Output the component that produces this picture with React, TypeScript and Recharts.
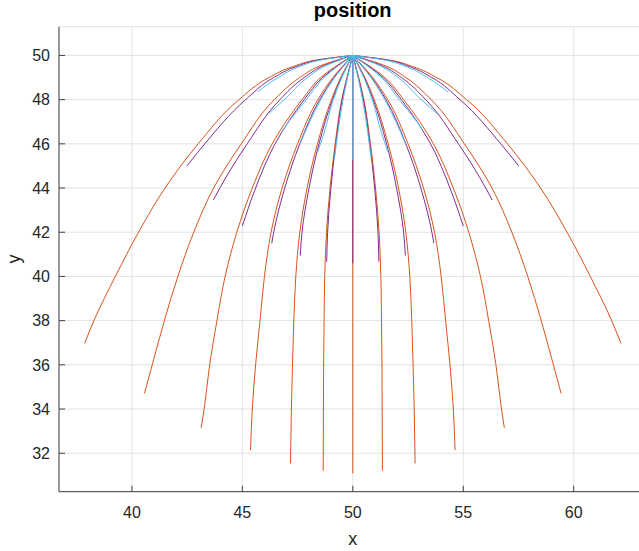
import { LineChart, Line, XAxis, YAxis, CartesianGrid } from "recharts";

type Pt = [number, number];

// each run listed from its end point up to the launch point (50, 50), as [x, y]
// long runs (orange-red)
const redLeft: Pt[][] = [
	[[37.86, 36.97], [38.28, 38], [39.25, 40], [40.3, 42], [41.5, 44], [43.0, 46], [44.85, 48], [46.2, 49], [47.3, 49.5], [48.4, 49.8], [50, 50]],
	[[40.57, 34.71], [40.92, 36], [41.47, 38], [42.08, 40], [42.8, 42], [43.7, 44], [44.95, 46], [46.45, 48], [47.6, 49], [48.45, 49.5], [50, 50]],
	[[43.14, 33.15], [43.27, 34], [43.52, 36], [43.85, 38], [44.22, 40], [44.75, 42], [45.45, 44], [46.35, 46], [47.7, 48], [48.55, 49], [50, 50]],
	[[45.37, 32.14], [45.45, 34], [45.6, 36], [45.8, 38], [46.0, 40], [46.3, 42], [46.8, 44], [47.5, 46], [48.42, 48], [49.1, 49], [50, 50]],
	[[47.18, 31.54], [47.22, 34], [47.27, 36], [47.33, 38], [47.42, 40], [47.6, 42], [47.93, 44], [48.4, 46], [49.03, 48], [49.45, 49], [50, 50]],
	[[48.66, 31.21], [48.67, 34], [48.68, 36], [48.7, 38], [48.73, 40], [48.81, 42], [48.97, 44], [49.2, 46], [49.5, 48], [49.73, 49], [50, 50]],
];
const redRight: Pt[][] = [
	[[62.14, 36.97], [61.72, 38], [60.75, 40], [59.7, 42], [58.5, 44], [57.0, 46], [55.15, 48], [53.8, 49], [52.7, 49.5], [51.6, 49.8], [50, 50]],
	[[59.43, 34.71], [59.08, 36], [58.53, 38], [57.92, 40], [57.2, 42], [56.3, 44], [55.05, 46], [53.55, 48], [52.4, 49], [51.55, 49.5], [50, 50]],
	[[56.86, 33.15], [56.73, 34], [56.48, 36], [56.15, 38], [55.78, 40], [55.25, 42], [54.55, 44], [53.65, 46], [52.3, 48], [51.45, 49], [50, 50]],
	[[54.63, 32.14], [54.55, 34], [54.4, 36], [54.2, 38], [54.0, 40], [53.7, 42], [53.2, 44], [52.5, 46], [51.58, 48], [50.9, 49], [50, 50]],
	[[52.82, 31.54], [52.78, 34], [52.73, 36], [52.67, 38], [52.58, 40], [52.4, 42], [52.07, 44], [51.6, 46], [50.97, 48], [50.55, 49], [50, 50]],
	[[51.34, 31.21], [51.33, 34], [51.32, 36], [51.3, 38], [51.27, 40], [51.19, 42], [51.03, 44], [50.8, 46], [50.5, 48], [50.27, 49], [50, 50]],
];
const redDown: Pt[] = [[50, 31.09], [50, 50]];

// medium runs (purple)
const purpleLeft: Pt[][] = [
	[[42.49, 45.0], [43.3, 46], [45.15, 48], [46.42, 49], [47.45, 49.5], [48.48, 49.8], [50, 50]],
	[[43.69, 43.46], [43.98, 44], [45.22, 46], [46.7, 48], [47.8, 49], [48.6, 49.5], [50, 50]],
	[[45.0, 42.28], [45.6, 44], [46.48, 46], [47.8, 48], [48.63, 49], [50, 50]],
	[[46.33, 41.5], [46.42, 42], [46.92, 44], [47.6, 46], [48.5, 48], [49.15, 49], [50, 50]],
	[[47.62, 40.94], [47.7, 42], [48.02, 44], [48.47, 46], [49.08, 48], [49.48, 49], [50, 50]],
	[[48.82, 40.67], [48.86, 42], [49.01, 44], [49.23, 46], [49.52, 48], [49.75, 49], [50, 50]],
];
const purpleRight: Pt[][] = [
	[[57.51, 45.0], [56.7, 46], [54.85, 48], [53.58, 49], [52.55, 49.5], [51.52, 49.8], [50, 50]],
	[[56.31, 43.46], [56.02, 44], [54.78, 46], [53.3, 48], [52.2, 49], [51.4, 49.5], [50, 50]],
	[[55.0, 42.28], [54.4, 44], [53.52, 46], [52.2, 48], [51.37, 49], [50, 50]],
	[[53.67, 41.5], [53.58, 42], [53.08, 44], [52.4, 46], [51.5, 48], [50.85, 49], [50, 50]],
	[[52.38, 40.94], [52.3, 42], [51.98, 44], [51.53, 46], [50.92, 48], [50.52, 49], [50, 50]],
	[[51.18, 40.67], [51.14, 42], [50.99, 44], [50.77, 46], [50.48, 48], [50.25, 49], [50, 50]],
];
const purpleDown: Pt[] = [[50, 40.59], [50, 50]];

// short runs (light blue)
const blueLeft: Pt[][] = [
	[[45.7, 48.36], [46.62, 49], [47.6, 49.5], [48.6, 49.8], [50, 50]],
	[[46.2, 47.38], [46.9, 48], [47.95, 49], [48.7, 49.5], [50, 50]],
	[[46.83, 46.62], [47.1, 47], [47.9, 48], [48.7, 49], [50, 50]],
	[[47.62, 46.02], [48.05, 47], [48.55, 48], [49.18, 49], [50, 50]],
	[[48.4, 45.61], [48.7, 46.5], [49.12, 48], [49.5, 49], [50, 50]],
	[[49.17, 45.34], [49.32, 46.5], [49.56, 48], [49.76, 49], [50, 50]],
];
const blueRight: Pt[][] = [
	[[54.3, 48.36], [53.38, 49], [52.4, 49.5], [51.4, 49.8], [50, 50]],
	[[53.8, 47.38], [53.1, 48], [52.05, 49], [51.3, 49.5], [50, 50]],
	[[53.17, 46.62], [52.9, 47], [52.1, 48], [51.3, 49], [50, 50]],
	[[52.38, 46.02], [51.95, 47], [51.45, 48], [50.82, 49], [50, 50]],
	[[51.6, 45.61], [51.3, 46.5], [50.88, 48], [50.5, 49], [50, 50]],
	[[50.83, 45.34], [50.68, 46.5], [50.44, 48], [50.24, 49], [50, 50]],
];
const blueDown: Pt[] = [[50, 45.27], [50, 50]];

const xTicks = [40, 45, 50, 55, 60];
const yTicks = [32, 34, 36, 38, 40, 42, 44, 46, 48, 50];

const RED = "#D95319";
const PURPLE = "#7E2F8E";
const BLUE = "#4DBEEE";
const FONT = '"Liberation Sans", Arial, Helvetica, sans-serif';

const rows = (c: Pt[]) => c.map(([x, y]) => ({ x, y }));

export default function App() {
	// drawing order: red, then purple, then blue on top
	const series: { key: string; pts: Pt[]; color: string; straight?: boolean }[] = [];
	redLeft.forEach((c, i) => series.push({ key: "rl" + i, pts: c, color: RED }));
	redRight.forEach((c, i) => series.push({ key: "rr" + i, pts: c, color: RED }));
	series.push({ key: "rd", pts: redDown, color: RED, straight: true });
	purpleLeft.forEach((c, i) => series.push({ key: "pl" + i, pts: c, color: PURPLE }));
	purpleRight.forEach((c, i) => series.push({ key: "pr" + i, pts: c, color: PURPLE }));
	series.push({ key: "pd", pts: purpleDown, color: PURPLE, straight: true });
	blueLeft.forEach((c, i) => series.push({ key: "bl" + i, pts: c, color: BLUE }));
	blueRight.forEach((c, i) => series.push({ key: "br" + i, pts: c, color: BLUE }));
	series.push({ key: "bd", pts: blueDown, color: BLUE, straight: true });

	const tickStyle = { fill: "#262626", fontSize: 16, fontFamily: FONT };

	return (
		<div style={{ position: "fixed", top: 0, left: 0, width: 639, height: 551, overflow: "hidden", background: "#fff" }}>
			<LineChart width={670} height={551} margin={{ top: 26.7, right: 23.4, bottom: 29.3, left: 0 }}>
				<CartesianGrid stroke="#e3e3e3" />
				<XAxis
					type="number"
					dataKey="x"
					domain={[36.7, 63.3]}
					ticks={xTicks}
					interval={0}
					allowDataOverflow
					height={30}
					tickSize={-6}
					tickMargin={21}
					stroke="#404040"
					tick={tickStyle}
				/>
				<YAxis
					type="number"
					dataKey="y"
					domain={[30.26, 51.3]}
					ticks={yTicks}
					interval={0}
					allowDataOverflow
					width={59}
					tickSize={-6}
					tickMargin={15}
					stroke="#404040"
					tick={tickStyle}
				/>
				{series.map((s) => (
					<Line
						key={s.key}
						data={rows(s.pts)}
						dataKey="y"
						type={s.straight ? "linear" : "monotoneY"}
						stroke={s.color}
						strokeWidth={1}
						dot={false}
						activeDot={false}
						isAnimationActive={false}
					/>
				))}
			</LineChart>
			<svg width={639} height={551} style={{ position: "absolute", top: 0, left: 0, pointerEvents: "none" }}>
				<text x={352.7} y={17.3} textAnchor="middle" fontWeight="bold" fontSize={20} fontFamily={FONT} fill="#000">
					position
				</text>
				<text x={352.7} y={545} textAnchor="middle" fontSize={18} fontFamily={FONT} fill="#262626">
					x
				</text>
				<text transform="translate(20,259) rotate(-90)" textAnchor="middle" fontSize={18} fontFamily={FONT} fill="#262626">
					y
				</text>
			</svg>
		</div>
	);
}
